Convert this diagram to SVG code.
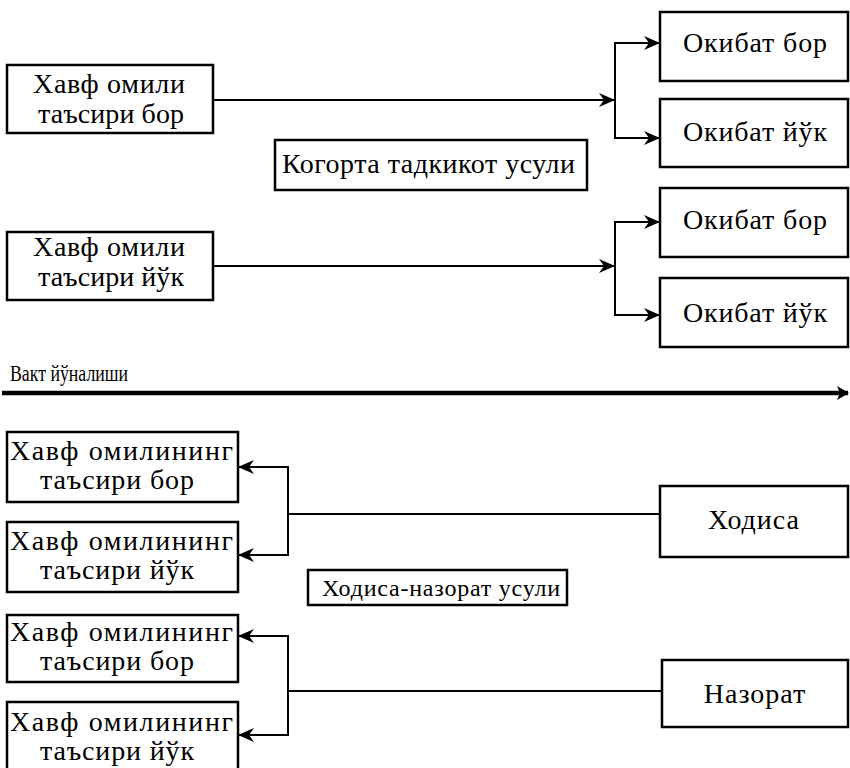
<svg xmlns="http://www.w3.org/2000/svg" width="850" height="768" viewBox="0 0 850 768">
<style>
.box{fill:#fff;stroke:#000;stroke-width:2.5}
.t{font-family:"Liberation Serif","Times New Roman",serif;font-size:28px;fill:#000}
.c{stroke:#000;stroke-width:2;fill:none}
</style>
<defs>
<marker id="ah" viewBox="0 0 16 14" refX="15" refY="7" markerWidth="16" markerHeight="14" markerUnits="userSpaceOnUse" orient="auto-start-reverse">
<path d="M0,0 L16,7 L0,14 L5,7 z" fill="#000"/>
</marker>
<marker id="big" viewBox="0 0 12 14" refX="11" refY="7" markerWidth="12" markerHeight="16" markerUnits="userSpaceOnUse" orient="auto">
<path d="M0,0 L12,7 L0,14 L3,7 z" fill="#000"/>
</marker>
</defs>
<g id="connectors">
<line class="c" x1="213" y1="100" x2="614" y2="100" marker-end="url(#ah)"/>
<polyline class="c" points="659,43 615,43 615,138 659,138" marker-start="url(#ah)" marker-end="url(#ah)"/>
<line class="c" x1="213" y1="266" x2="614" y2="266" marker-end="url(#ah)"/>
<polyline class="c" points="659,222 615,222 615,315 659,315" marker-start="url(#ah)" marker-end="url(#ah)"/>
<line x1="2" y1="393" x2="848" y2="393" stroke="#000" stroke-width="4.5" marker-end="url(#big)"/>
<line class="c" x1="288" y1="514" x2="660" y2="514"/>
<polyline class="c" points="239,467 288,467 288,555 239,555" marker-start="url(#ah)" marker-end="url(#ah)"/>
<line class="c" x1="288" y1="691" x2="662" y2="691"/>
<polyline class="c" points="239,636 288,636 288,735 239,735" marker-start="url(#ah)" marker-end="url(#ah)"/>
</g>
<g id="n1"><rect class="box" x="7" y="65" width="206" height="68"/>
<text class="t" x="33" y="93" textLength="152" lengthAdjust="spacing">Хавф омили</text>
<text class="t" x="38" y="123" textLength="146" lengthAdjust="spacing">таъсири бор</text></g>
<g id="n2"><rect class="box" x="7" y="232" width="206" height="68"/>
<text class="t" x="33" y="256" textLength="152" lengthAdjust="spacing">Хавф омили</text>
<text class="t" x="38" y="286" textLength="146" lengthAdjust="spacing">таъсири йўк</text></g>
<g id="m1"><rect class="box" x="275" y="140" width="312" height="50"/>
<text class="t" x="282" y="173" textLength="293" lengthAdjust="spacing">Когорта тадкикот усули</text></g>
<g id="o1"><rect class="box" x="660" y="12" width="188" height="69"/>
<text class="t" x="683" y="52" textLength="144" lengthAdjust="spacing">Окибат бор</text></g>
<g id="o2"><rect class="box" x="660" y="99" width="188" height="68"/>
<text class="t" x="683" y="141" textLength="144" lengthAdjust="spacing">Окибат йўк</text></g>
<g id="o3"><rect class="box" x="660" y="188" width="188" height="69"/>
<text class="t" x="683" y="229" textLength="144" lengthAdjust="spacing">Окибат бор</text></g>
<g id="o4"><rect class="box" x="660" y="278" width="188" height="69"/>
<text class="t" x="683" y="322" textLength="144" lengthAdjust="spacing">Окибат йўк</text></g>
<g id="time"><text x="10" y="381" font-family="Liberation Serif,serif" font-size="24" textLength="118" lengthAdjust="spacingAndGlyphs">Вакт йўналиши</text></g>
<g id="b1"><rect class="box" x="7" y="432" width="231" height="70"/>
<text class="t" x="10" y="460" textLength="223" lengthAdjust="spacing">Хавф омилининг</text>
<text class="t" x="40" y="489" textLength="154" lengthAdjust="spacing">таъсири бор</text></g>
<g id="b2"><rect class="box" x="7" y="522" width="231" height="70"/>
<text class="t" x="10" y="550" textLength="223" lengthAdjust="spacing">Хавф омилининг</text>
<text class="t" x="40" y="579" textLength="154" lengthAdjust="spacing">таъсири йўк</text></g>
<g id="m2"><rect class="box" x="308" y="570" width="259" height="35"/>
<text class="t" x="322" y="596" style="font-size:24px" textLength="238" lengthAdjust="spacing">Ходиса-назорат усули</text></g>
<g id="h"><rect class="box" x="660" y="486" width="188" height="71"/>
<text class="t" x="754" y="529" text-anchor="middle" letter-spacing="1">Ходиса</text></g>
<g id="b3"><rect class="box" x="7" y="615" width="231" height="67"/>
<text class="t" x="10" y="641" textLength="223" lengthAdjust="spacing">Хавф омилининг</text>
<text class="t" x="40" y="670" textLength="154" lengthAdjust="spacing">таъсири бор</text></g>
<g id="b4"><rect class="box" x="7" y="702" width="231" height="70"/>
<text class="t" x="10" y="731" textLength="223" lengthAdjust="spacing">Хавф омилининг</text>
<text class="t" x="40" y="760" textLength="154" lengthAdjust="spacing">таъсири йўк</text></g>
<g id="nz"><rect class="box" x="662" y="660" width="186" height="67"/>
<text class="t" x="755" y="703" text-anchor="middle" letter-spacing="1">Назорат</text></g>
</svg>
